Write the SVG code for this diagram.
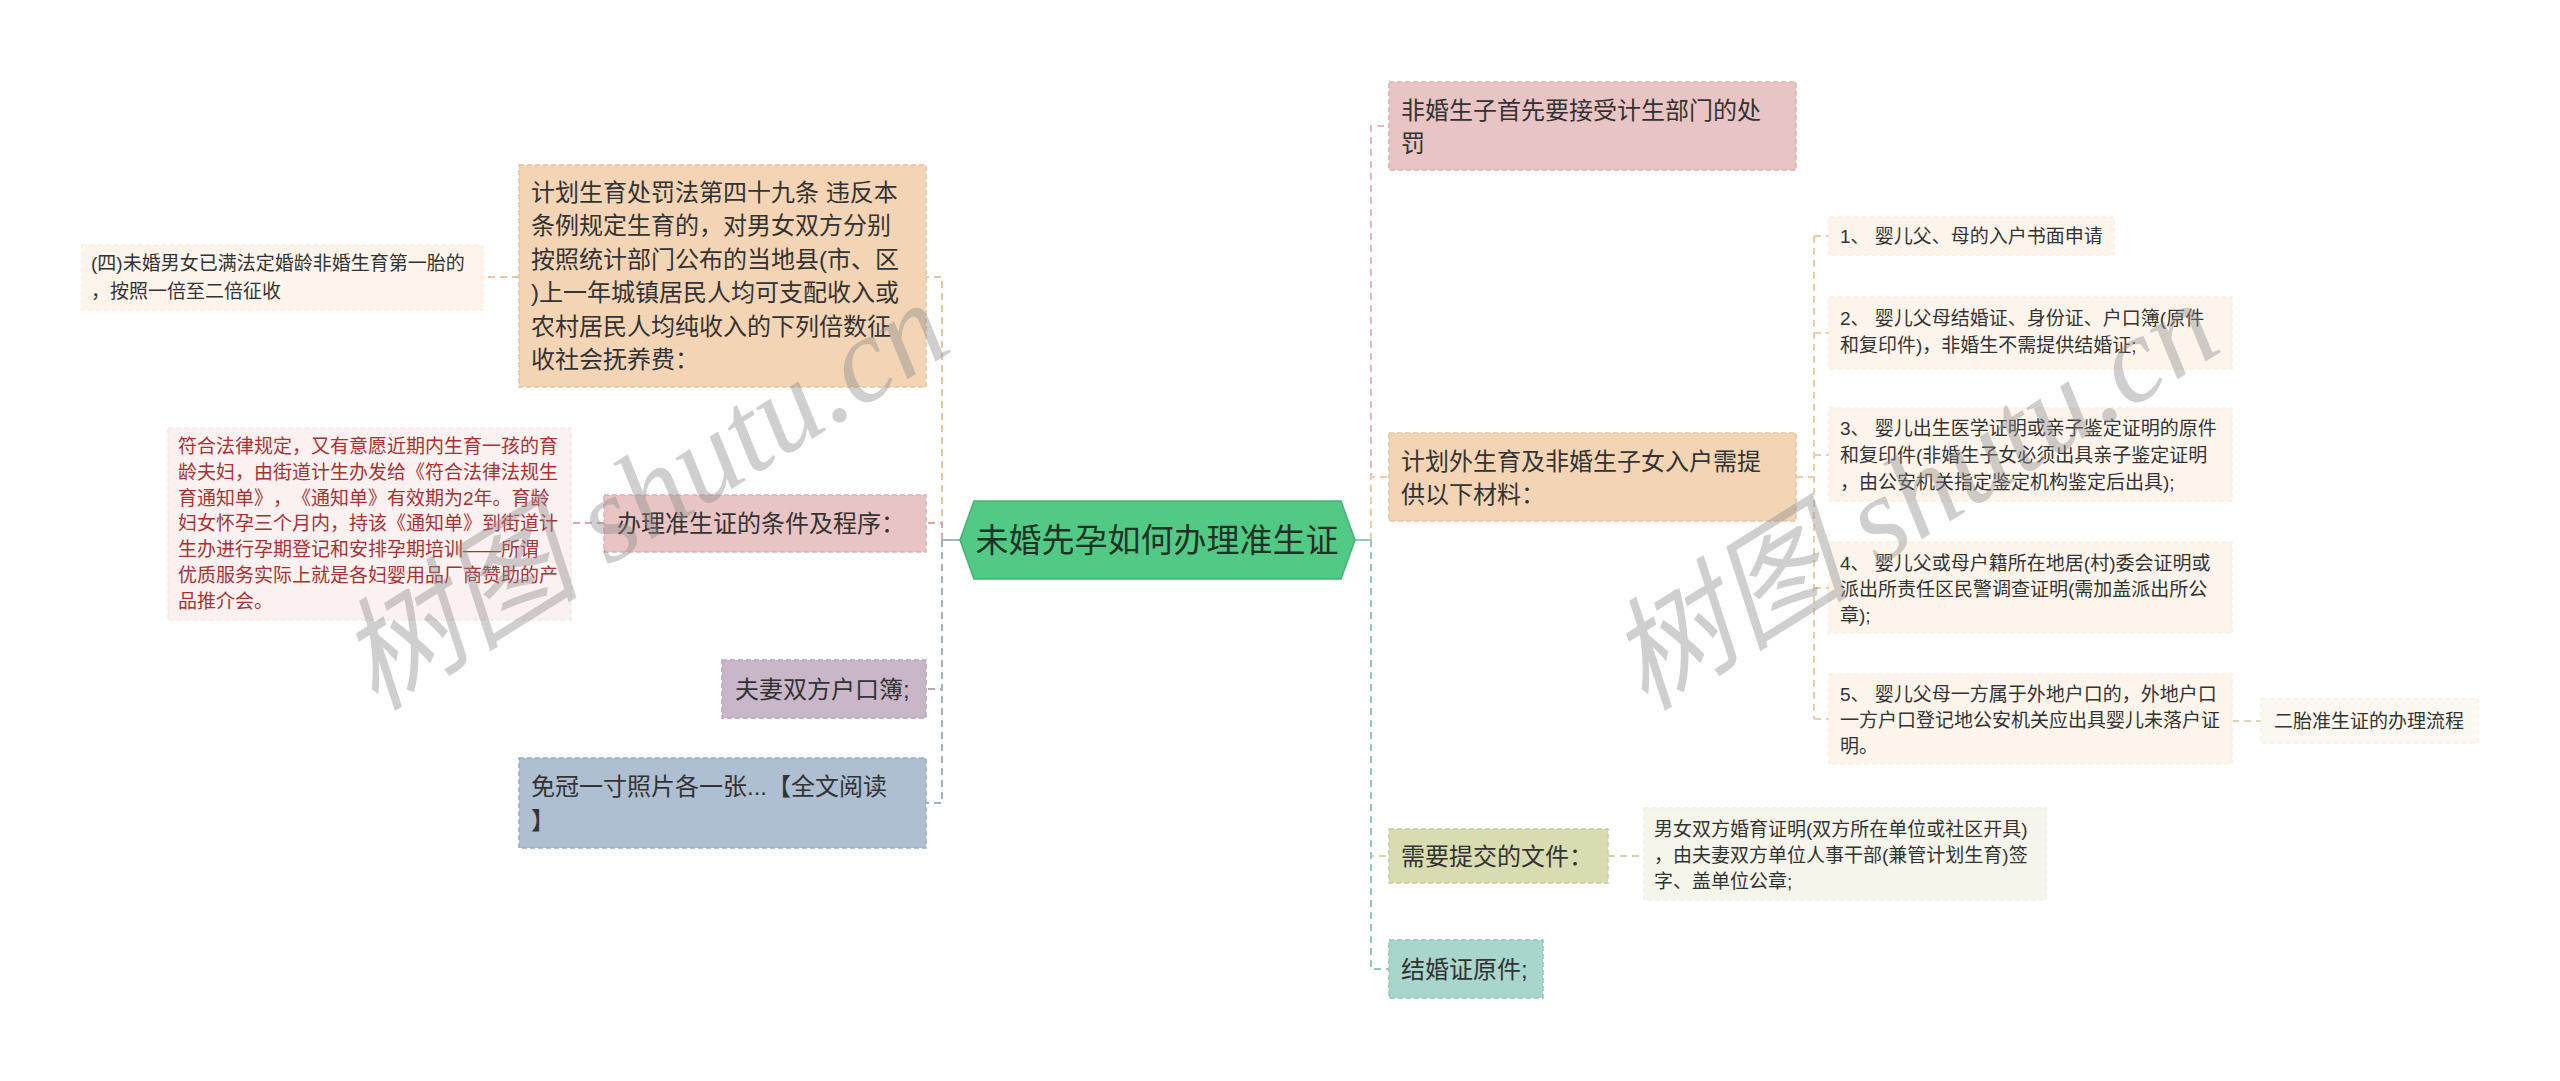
<svg xmlns="http://www.w3.org/2000/svg" width="2560" height="1081" viewBox="0 0 2560 1081">
<style>
text{font-family:"Liberation Sans","Noto Sans CJK SC",sans-serif;text-spacing-trim:space-all;}
.t24{font-size:24px;fill:#333;}
.t19{font-size:19px;fill:#333;}
.red{font-size:19px;fill:#a83232;}
.ctr{font-size:33px;fill:#1e3326;}
.nb{stroke-width:1.5;stroke-dasharray:5 3;}
.cn{fill:none;stroke-width:2;stroke-dasharray:7 5;}
.wm{font-family:"Liberation Serif","Noto Sans CJK SC",serif;font-style:italic;font-size:122px;fill:#8c8c8c;fill-opacity:0.42;}
</style>
<rect width="2560" height="1081" fill="#ffffff"/>

<g id="connectors">
  <path class="cn" stroke="#e8c39e" d="M942,540 V277 H926"/>
  <path class="cn" stroke="#e8c39e" d="M519,277 H483"/>
  <path class="cn" stroke="#d7aaaa" d="M942,540 V523 H926"/>
  <path class="cn" stroke="#d7aaaa" d="M604,523 H571"/>
  <path class="cn" stroke="#b9a7b9" d="M942,540 V689 H926"/>
  <path class="cn" stroke="#a3b3c5" d="M942,540 V803 H926"/>
  <path fill="none" stroke="#a3b3c5" stroke-width="2" d="M960,540 H942"/>
  <path class="cn" stroke="#e3b9b9" d="M1371,540 V126 H1389"/>
  <path class="cn" stroke="#eecaa5" d="M1371,540 V477 H1389"/>
  <path class="cn" stroke="#eecaa5" d="M1796,477 H1814"/>
  <path class="cn" stroke="#eecaa5" d="M1814,236 V719"/>
  <path class="cn" stroke="#eecaa5" d="M1814,236 H1829 M1814,333 H1829 M1814,455 H1829 M1814,588 H1829 M1814,719 H1829"/>
  <path class="cn" stroke="#ddd3b8" d="M2232,721 H2261"/>
  <path class="cn" stroke="#d0d3a4" d="M1371,540 V856 H1389"/>
  <path class="cn" stroke="#d0d3a4" d="M1608,856 H1644"/>
  <path class="cn" stroke="#93c9be" d="M1371,540 V969 H1389"/>
  <path fill="none" stroke="#93c9be" stroke-width="2" d="M1355,540 H1371"/>
</g>

<g id="center">
  <polygon points="960,540 974,501 1341,501 1355,540 1341,579 974,579" fill="#52c985" stroke="#41b472" stroke-width="1.5"/>
  <text class="ctr" x="1157" y="552" text-anchor="middle">未婚先孕如何办理准生证</text>
</g>

<g id="nodeA">
  <rect class="nb" x="519" y="165" width="407" height="222" fill="#f3d5b5" stroke="#e6c29c"/>
  <text class="t24" x="531" y="201">计划生育处罚法第四十九条 违反本</text>
  <text class="t24" x="531" y="234">条例规定生育的，对男女双方分别</text>
  <text class="t24" x="531" y="268">按照统计部门公布的当地县(市、区</text>
  <text class="t24" x="531" y="301">)上一年城镇居民人均可支配收入或</text>
  <text class="t24" x="531" y="335">农村居民人均纯收入的下列倍数征</text>
  <text class="t24" x="531" y="368">收社会抚养费：</text>
</g>
<g id="nodeA1">
  <rect class="nb" x="82" y="245" width="401" height="65" fill="#fdf5ec" stroke="#fbeee0"/>
  <text class="t19" x="91" y="270">(四)未婚男女已满法定婚龄非婚生育第一胎的</text>
  <text class="t19" x="91" y="298">，按照一倍至二倍征收</text>
</g>

<g id="nodeB">
  <rect class="nb" x="604" y="495" width="322" height="57" fill="#e8c4c4" stroke="#dbb0b0"/>
  <text class="t24" x="617" y="532">办理准生证的条件及程序：</text>
</g>
<g id="nodeB1">
  <rect class="nb" x="168" y="428" width="403" height="192" fill="#fbf1f1" stroke="#f6e6e6"/>
  <text class="red" x="178" y="453">符合法律规定，又有意愿近期内生育一孩的育</text>
  <text class="red" x="178" y="479">龄夫妇，由街道计生办发给《符合法律法规生</text>
  <text class="red" x="178" y="505">育通知单》，《通知单》有效期为2年。育龄</text>
  <text class="red" x="178" y="530">妇女怀孕三个月内，持该《通知单》到街道计</text>
  <text class="red" x="178" y="556">生办进行孕期登记和安排孕期培训——所谓</text>
  <text class="red" x="178" y="582">优质服务实际上就是各妇婴用品厂商赞助的产</text>
  <text class="red" x="178" y="608">品推介会。</text>
</g>

<g id="nodeC">
  <rect class="nb" x="722" y="660" width="204" height="58" fill="#c9b7c9" stroke="#b9a5b9"/>
  <text class="t24" x="735" y="698">夫妻双方户口簿;</text>
</g>

<g id="nodeD">
  <rect class="nb" x="519" y="758" width="407" height="90" fill="#aebfd1" stroke="#9cadc0"/>
  <text class="t24" x="531" y="795">免冠一寸照片各一张...【全文阅读</text>
  <text class="t24" x="531" y="829">】</text>
</g>

<g id="nodeE">
  <rect class="nb" x="1389" y="82" width="407" height="88" fill="#e8c4c4" stroke="#dbb0b0"/>
  <text class="t24" x="1401" y="119">非婚生子首先要接受计生部门的处</text>
  <text class="t24" x="1401" y="152">罚</text>
</g>

<g id="nodeF">
  <rect class="nb" x="1389" y="433" width="407" height="88" fill="#f3d5b5" stroke="#e6c29c"/>
  <text class="t24" x="1401" y="470">计划外生育及非婚生子女入户需提</text>
  <text class="t24" x="1401" y="503">供以下材料：</text>
</g>
<g id="nodeF1">
  <rect class="nb" x="1829" y="217" width="285" height="38" fill="#fdf5ec" stroke="#fbeee0"/>
  <text class="t19" x="1840" y="243">1、 婴儿父、母的入户书面申请</text>
</g>
<g id="nodeF2">
  <rect class="nb" x="1829" y="297" width="403" height="72" fill="#fdf5ec" stroke="#fbeee0"/>
  <text class="t19" x="1840" y="325">2、 婴儿父母结婚证、身份证、户口簿(原件</text>
  <text class="t19" x="1840" y="352">和复印件)，非婚生不需提供结婚证;</text>
</g>
<g id="nodeF3">
  <rect class="nb" x="1829" y="408" width="403" height="93" fill="#fdf5ec" stroke="#fbeee0"/>
  <text class="t19" x="1840" y="435">3、 婴儿出生医学证明或亲子鉴定证明的原件</text>
  <text class="t19" x="1840" y="462">和复印件(非婚生子女必须出具亲子鉴定证明</text>
  <text class="t19" x="1840" y="489">，由公安机关指定鉴定机构鉴定后出具);</text>
</g>
<g id="nodeF4">
  <rect class="nb" x="1829" y="542" width="403" height="91" fill="#fdf5ec" stroke="#fbeee0"/>
  <text class="t19" x="1840" y="570">4、 婴儿父或母户籍所在地居(村)委会证明或</text>
  <text class="t19" x="1840" y="596">派出所责任区民警调查证明(需加盖派出所公</text>
  <text class="t19" x="1840" y="622">章);</text>
</g>
<g id="nodeF5">
  <rect class="nb" x="1829" y="674" width="403" height="90" fill="#fdf5ec" stroke="#fbeee0"/>
  <text class="t19" x="1840" y="701">5、 婴儿父母一方属于外地户口的，外地户口</text>
  <text class="t19" x="1840" y="727">一方户口登记地公安机关应出具婴儿未落户证</text>
  <text class="t19" x="1840" y="753">明。</text>
</g>
<g id="nodeF5a">
  <rect class="nb" x="2261" y="699" width="217" height="44" fill="#fbf8f1" stroke="#f6f1e6"/>
  <text class="t19" x="2274" y="728">二胎准生证的办理流程</text>
</g>

<g id="nodeG">
  <rect class="nb" x="1389" y="829" width="219" height="54" fill="#d8dcb0" stroke="#c8cc9c"/>
  <text class="t24" x="1401" y="865">需要提交的文件：</text>
</g>
<g id="nodeG1">
  <rect class="nb" x="1644" y="808" width="402" height="92" fill="#f5f5ec" stroke="#efefe2"/>
  <text class="t19" x="1654" y="836">男女双方婚育证明(双方所在单位或社区开具)</text>
  <text class="t19" x="1654" y="862">，由夫妻双方单位人事干部(兼管计划生育)签</text>
  <text class="t19" x="1654" y="888">字、盖单位公章;</text>
</g>

<g id="nodeH">
  <rect class="nb" x="1389" y="940" width="154" height="58" fill="#a8d5cc" stroke="#93c4ba"/>
  <text class="t24" x="1401" y="978">结婚证原件;</text>
</g>

<g id="watermarks">
  <text class="wm" transform="translate(375,712) rotate(-32)">树图 shutu.cn</text>
  <text class="wm" transform="translate(1645,712) rotate(-32)">树图 shutu.cn</text>
</g>
</svg>
